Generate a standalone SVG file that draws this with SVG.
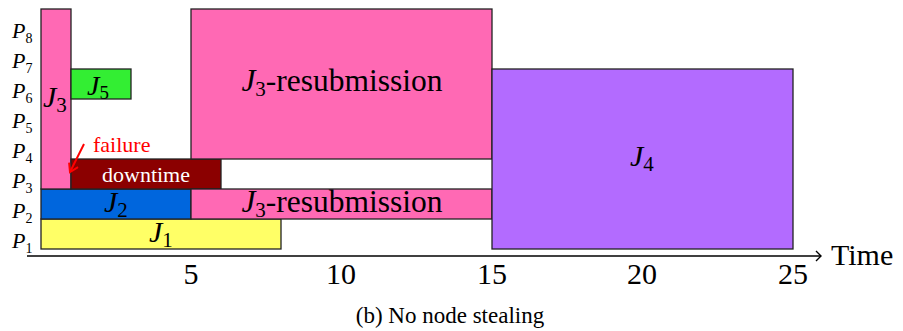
<svg xmlns="http://www.w3.org/2000/svg" width="903" height="331" viewBox="0 0 903 331">
<style>
text{font-family:"Liberation Serif","Times New Roman",serif;fill:#000}
.it{font-style:italic}
.p{font-size:22px;font-style:italic}
.sub{font-size:14px;font-style:normal}
.j{font-size:30px;font-style:italic}
.js{font-size:21px;font-style:normal}
.box{stroke:#222;stroke-width:1.3}
.tick{font-size:30px;text-anchor:middle}
</style>
<defs>
<marker id="red" markerWidth="12" markerHeight="12" refX="9" refY="6" orient="auto" markerUnits="userSpaceOnUse">
<path d="M1,1 L9,6 L1,11" fill="none" stroke="#ff0000" stroke-width="2"/>
</marker>
<marker id="blk" markerWidth="12" markerHeight="12" refX="10" refY="6" orient="auto" markerUnits="userSpaceOnUse">
<path d="M5,1 L10,6 L5,11" fill="none" stroke="#000" stroke-width="1.4"/>
</marker>
</defs>
<rect width="903" height="331" fill="#fff"/>

<g id="labels">
<text class="p" x="12" y="248">P<tspan class="sub" dy="5">1</tspan></text>
<text class="p" x="12" y="218">P<tspan class="sub" dy="5">2</tspan></text>
<text class="p" x="12" y="188">P<tspan class="sub" dy="5">3</tspan></text>
<text class="p" x="12" y="158">P<tspan class="sub" dy="5">4</tspan></text>
<text class="p" x="12" y="128">P<tspan class="sub" dy="5">5</tspan></text>
<text class="p" x="12" y="98">P<tspan class="sub" dy="5">6</tspan></text>
<text class="p" x="12" y="68">P<tspan class="sub" dy="5">7</tspan></text>
<text class="p" x="12" y="38">P<tspan class="sub" dy="5">8</tspan></text>
</g>

<g id="J1">
<rect class="box" x="41" y="219" width="240" height="30" fill="#ffff66"/>
<text class="j" x="149" y="242">J<tspan class="js" dy="5">1</tspan></text>
</g>
<g id="J2">
<rect class="box" x="41" y="189" width="150" height="30" fill="#0066dd"/>
<text class="j" x="104" y="212">J<tspan class="js" dy="5">2</tspan></text>
</g>
<g id="J3">
<rect class="box" x="41" y="9" width="30" height="180" fill="#ff69b4"/>
<text class="j" x="43" y="107">J<tspan class="js" dy="5">3</tspan></text>
</g>
<g id="J5">
<rect class="box" x="71" y="69" width="60" height="30" fill="#33ee33"/>
<text class="j" x="87" y="95" style="font-size:28px">J<tspan class="js" dy="4" style="font-size:19px">5</tspan></text>
</g>
<g id="downtime">
<rect class="box" x="71" y="159" width="150" height="30" fill="#8b0000"/>
<text x="146" y="182" style="font-size:22px;fill:#fff;text-anchor:middle">downtime</text>
</g>
<g id="J3-resub-top">
<rect class="box" x="191" y="9" width="301" height="150" fill="#ff69b4"/>
<text x="342" y="91" style="font-size:31.5px;text-anchor:middle"><tspan class="it">J</tspan><tspan style="font-size:21px" dy="5">3</tspan><tspan dy="-5">-resubmission</tspan></text>
</g>
<g id="J3-resub-bottom">
<rect class="box" x="191" y="189" width="301" height="30" fill="#ff69b4"/>
<text x="342" y="212" style="font-size:31.5px;text-anchor:middle"><tspan class="it">J</tspan><tspan style="font-size:21px" dy="5">3</tspan><tspan dy="-5">-resubmission</tspan></text>
</g>
<g id="J4">
<rect class="box" x="492" y="69" width="301" height="180" fill="#b36bff"/>
<text class="j" x="630" y="166">J<tspan class="js" dy="5">4</tspan></text>
</g>
<g id="failure">
<text x="93" y="152" style="font-size:22px;fill:#ff0000">failure</text>
</g>

<g id="connectors">
<line x1="84" y1="144" x2="70" y2="172" stroke="#ff0000" stroke-width="2" marker-end="url(#red)"/>
<line x1="27" y1="256" x2="821" y2="256" stroke="#000" stroke-width="1.6" marker-end="url(#blk)"/>
</g>

<g id="axis">
<text class="tick" x="191" y="284">5</text>
<text class="tick" x="341" y="284">10</text>
<text class="tick" x="492" y="284">15</text>
<text class="tick" x="642" y="284">20</text>
<text class="tick" x="793" y="284">25</text>
<text x="831" y="265" style="font-size:30px">Time</text>
<text x="450" y="323" style="font-size:23px;text-anchor:middle">(b) No node stealing</text>
</g>
</svg>
